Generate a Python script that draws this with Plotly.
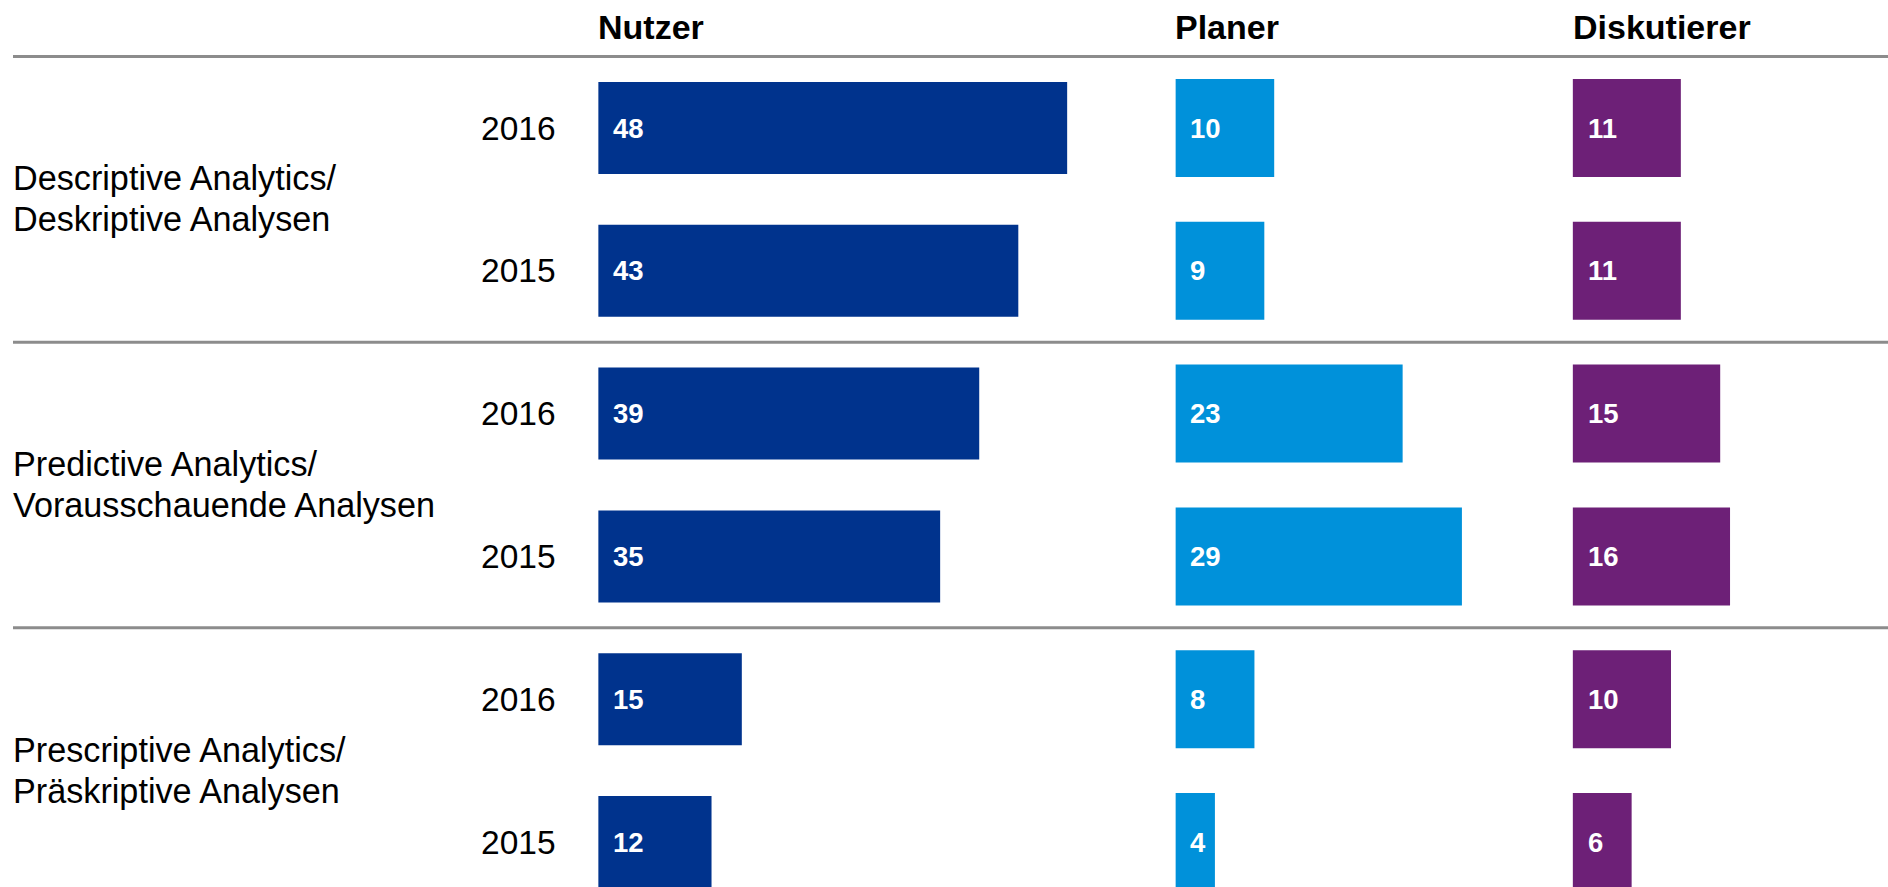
import plotly.graph_objects as go

# ---- data ----
groups = ["Descriptive Analytics/<br>Deskriptive Analysen",
          "Predictive Analytics/<br>Vorausschauende Analysen",
          "Prescriptive Analytics/<br>Präskriptive Analysen"]
years = ["2016", "2015"]
series_names = ["Nutzer", "Planer", "Diskutierer"]
nutzer = [48, 43, 39, 35, 14.7, 11.6]
planer = [10, 9, 23, 29, 8, 4]
diskutierer = [11, 11, 15, 16, 10, 6]

colors = ["#00338D", "#0091DA", "#6D2077"]
series_values = [nutzer, planer, diskutierer]

W, H = 1888, 887
FONT = "Liberation Sans, Arial, sans-serif"

rows = [(g, y) for g in groups for y in years]
ypos = list(range(len(rows)))

# axis geometry (pixels)
row0_px, row_step = 128.0, 142.8
xdomains_px = [(598.2, 1150.0), (1175.4, 1550.0), (1572.6, 1888.0)]
px_per_unit = [9.77, 9.88, 9.84]
bar_widths = [0.644, 0.686, 0.686]

fig = go.Figure()
xaxes = ["x", "x2", "x3"]
for i, (name, vals) in enumerate(zip(series_names, series_values)):
    fig.add_trace(go.Bar(
        x=vals, y=ypos, orientation="h", name=name,
        marker=dict(color=colors[i], line=dict(width=0)),
        width=bar_widths[i], xaxis=xaxes[i], yaxis="y",
        showlegend=False, hoverinfo="x+name",
    ))

annotations = []
# headers
for i, name in enumerate(series_names):
    annotations.append(dict(
        text="<b>%s</b>" % name, x=0, xref=xaxes[i], xanchor="left",
        y=1 - 27.0 / H, yref="paper", yanchor="middle", showarrow=False,
        font=dict(family=FONT, size=34, color="#000000"), xshift=-2,
    ))
# value labels
for i, vals in enumerate(series_values):
    for yp, v in zip(ypos, vals):
        annotations.append(dict(
            text="<b>%d</b>" % round(v), x=0, xref=xaxes[i], xanchor="left",
            y=yp, yref="y", yanchor="middle", showarrow=False, xshift=13,
            font=dict(family=FONT, size=27.5, color="#FFFFFF"),
        ))
# year labels
for yp, (g, yr) in zip(ypos, rows):
    annotations.append(dict(
        text=yr, x=558.0 / W, xref="paper", xanchor="right",
        y=yp, yref="y", yanchor="middle", showarrow=False,
        font=dict(family=FONT, size=33.5, color="#000000"),
    ))
# group labels (two lines each)
for gi, g in enumerate(groups):
    center = gi * len(years) + (len(years) - 1) / 2
    for li, line in enumerate(g.split("<br>")):
        annotations.append(dict(
            text=line, x=11.0 / W, xref="paper", xanchor="left",
            y=center, yref="y", yanchor="middle", showarrow=False,
            yshift=21 if li == 0 else -20,
            font=dict(family=FONT, size=34.2, color="#000000"),
        ))

# separator lines between groups
shapes = []
for gi in range(len(groups)):
    yb = gi * len(years) - 0.5
    shapes.append(dict(type="line", xref="paper", yref="y",
                       x0=13.0 / W, x1=1, y0=yb, y1=yb,
                       line=dict(color="#8C8C8C", width=3)))

layout = dict(
    width=W, height=H, margin=dict(l=0, r=0, t=0, b=0, pad=0),
    paper_bgcolor="white", plot_bgcolor="white",
    font=dict(family=FONT),
    barmode="overlay",
    yaxis=dict(range=[(H - row0_px) / row_step, -row0_px / row_step],
               showticklabels=False, showgrid=False, zeroline=False,
               domain=[0, 1], fixedrange=True),
    annotations=annotations, shapes=shapes,
)
for i, ax in enumerate(["xaxis", "xaxis2", "xaxis3"]):
    d0, d1 = xdomains_px[i]
    layout[ax] = dict(
        domain=[d0 / W, d1 / W], range=[0, (d1 - d0) / px_per_unit[i]],
        showticklabels=False, showgrid=False, zeroline=False,
        anchor="y", fixedrange=True,
    )
fig.update_layout(**layout)

fig.write_html("out.html", config={"displayModeBar": False},
               post_script="document.body.style.margin='0';document.body.style.overflow='hidden';")
